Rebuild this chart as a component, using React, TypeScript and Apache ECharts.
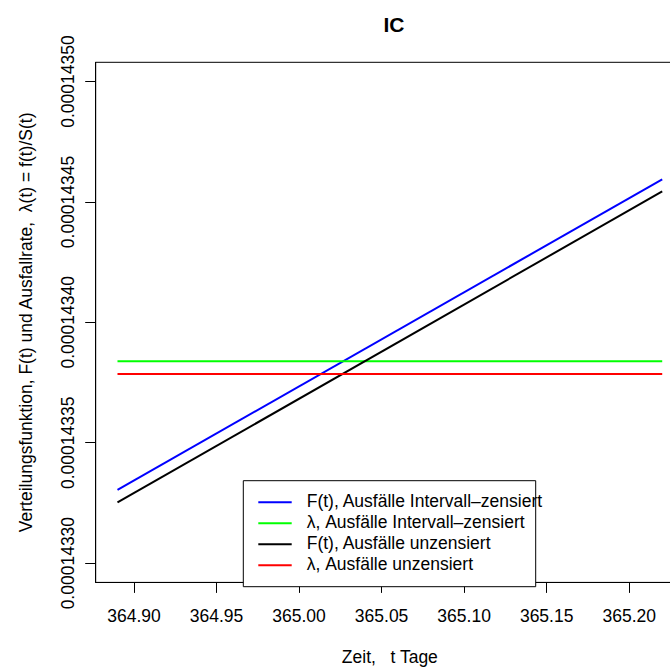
import React, { useEffect, useRef } from "react";
import * as echarts from "echarts";

// ---- data ----
const timeRange = [364.89, 365.22];
const fIntervall = [0.0001433304, 0.0001434594];
const fUnzensiert = [0.0001433252, 0.0001434544];
const lambdaIntervall = [0.0001433838, 0.0001433838];
const lambdaUnzensiert = [0.0001433786, 0.0001433786];

const xTicks = [364.9, 364.95, 365.0, 365.05, 365.1, 365.15, 365.2];
const yTicks = [0.0001433, 0.00014335, 0.0001434, 0.00014345, 0.0001435];
const xLimits = [364.8768, 365.2332];
const yLimits = [0.000143292, 0.000143508];

const seriesNames = [
  "F(t), Ausfälle Intervall–zensiert",
  "λ, Ausfälle Intervall–zensiert",
  "F(t), Ausfälle unzensiert",
  "λ, Ausfälle unzensiert",
];
const seriesColors = ["#0000FF", "#00FF00", "#000000", "#FF0000"];
const seriesValues = [fIntervall, lambdaIntervall, fUnzensiert, lambdaUnzensiert];

const titleText = "IC";
const xName = "Zeit,   t Tage";
const yName = "Verteilungsfunktion, F(t) und Ausfallrate,  λ(t) = f(t)/S(t)";

const FONT = "'Liberation Sans', Arial, Helvetica, sans-serif";
const FS = 17.5;

// The plot region of the reference runs past the right edge of the picture,
// so the chart canvas is wider than the visible window and clipped.
const CHART_W = 686;
const CHART_H = 671;

export default function App() {
  const ref = useRef<HTMLDivElement>(null);

  useEffect(() => {
    if (!ref.current) return;
    const chart = echarts.init(ref.current, undefined, { renderer: "svg" });

    const legendX = 243.3;
    const legendY = 480.7;
    const rowY0 = 502.3;
    const rowGap = 21;

    const legendGraphics: any[] = [
      {
        type: "rect",
        shape: { x: legendX, y: legendY, width: 292.4, height: 106 },
        style: { fill: "#ffffff", stroke: "#000000", lineWidth: 1 },
        z: 100,
      },
    ];
    seriesNames.forEach((name, i) => {
      const y = rowY0 + i * rowGap;
      legendGraphics.push({
        type: "line",
        shape: { x1: 258.3, y1: y, x2: 291.7, y2: y },
        style: { stroke: seriesColors[i], lineWidth: 2 },
        z: 101,
      });
      legendGraphics.push({
        type: "text",
        x: 306.7,
        y: y - 1,
        style: {
          text: name,
          fill: "#000",
          font: `${FS}px ${FONT}`,
          textAlign: "left",
          textVerticalAlign: "middle",
        },
        z: 101,
      });
    });

    chart.setOption({
      animation: false,
      backgroundColor: "#ffffff",
      title: {
        text: titleText,
        left: 389,
        top: 9,
        textAlign: "center",
        textStyle: { fontFamily: FONT, fontSize: 21, fontWeight: "bold", color: "#000" },
      },
      grid: {
        left: 95.7,
        right: 2,
        top: 62.3,
        bottom: 84.6,
        show: true,
        borderColor: "#000",
        borderWidth: 1,
        backgroundColor: "transparent",
        containLabel: false,
      },
      xAxis: {
        type: "value",
        min: xLimits[0],
        max: xLimits[1],
        name: xName,
        nameLocation: "middle",
        nameGap: 65.6,
        nameTextStyle: { fontFamily: FONT, fontSize: FS, color: "#000" },
        axisLine: { show: true, lineStyle: { color: "#000", width: 1 } },
        axisTick: { show: true, length: 10.5, lineStyle: { color: "#000" }, customValues: xTicks },
        axisLabel: {
          show: true,
          customValues: xTicks,
          margin: 24.6,
          fontFamily: FONT,
          fontSize: FS,
          color: "#000",
          formatter: (v: number) => v.toFixed(2),
        },
        splitLine: { show: false },
      },
      yAxis: {
        type: "value",
        min: yLimits[0],
        max: yLimits[1],
        name: yName,
        nameLocation: "middle",
        nameRotate: 90,
        nameGap: 61,
        nameTextStyle: { fontFamily: FONT, fontSize: FS, color: "#000" },
        axisLine: { show: true, lineStyle: { color: "#000", width: 1 } },
        axisTick: { show: true, length: 10.5, lineStyle: { color: "#000" }, customValues: yTicks },
        axisLabel: {
          show: true,
          customValues: yTicks,
          rotate: 90,
          margin: 19,
          fontFamily: FONT,
          fontSize: FS,
          color: "#000",
          formatter: (v: number) => v.toFixed(8),
        },
        splitLine: { show: false },
      },
      series: seriesNames.map((name, i) => ({
        name,
        type: "line",
        showSymbol: false,
        symbol: "none",
        lineStyle: { color: seriesColors[i], width: 2 },
        itemStyle: { color: seriesColors[i] },
        data: timeRange.map((t, j) => [t, seriesValues[i][j]]),
        z: 2,
      })),
      graphic: legendGraphics,
    });

    return () => {
      chart.dispose();
    };
  }, []);

  return (
    <div style={{ position: "fixed", left: 0, top: 0, width: 670, height: 671, overflow: "hidden", background: "#fff" }}>
      <div ref={ref} style={{ width: CHART_W, height: CHART_H }} />
    </div>
  );
}
